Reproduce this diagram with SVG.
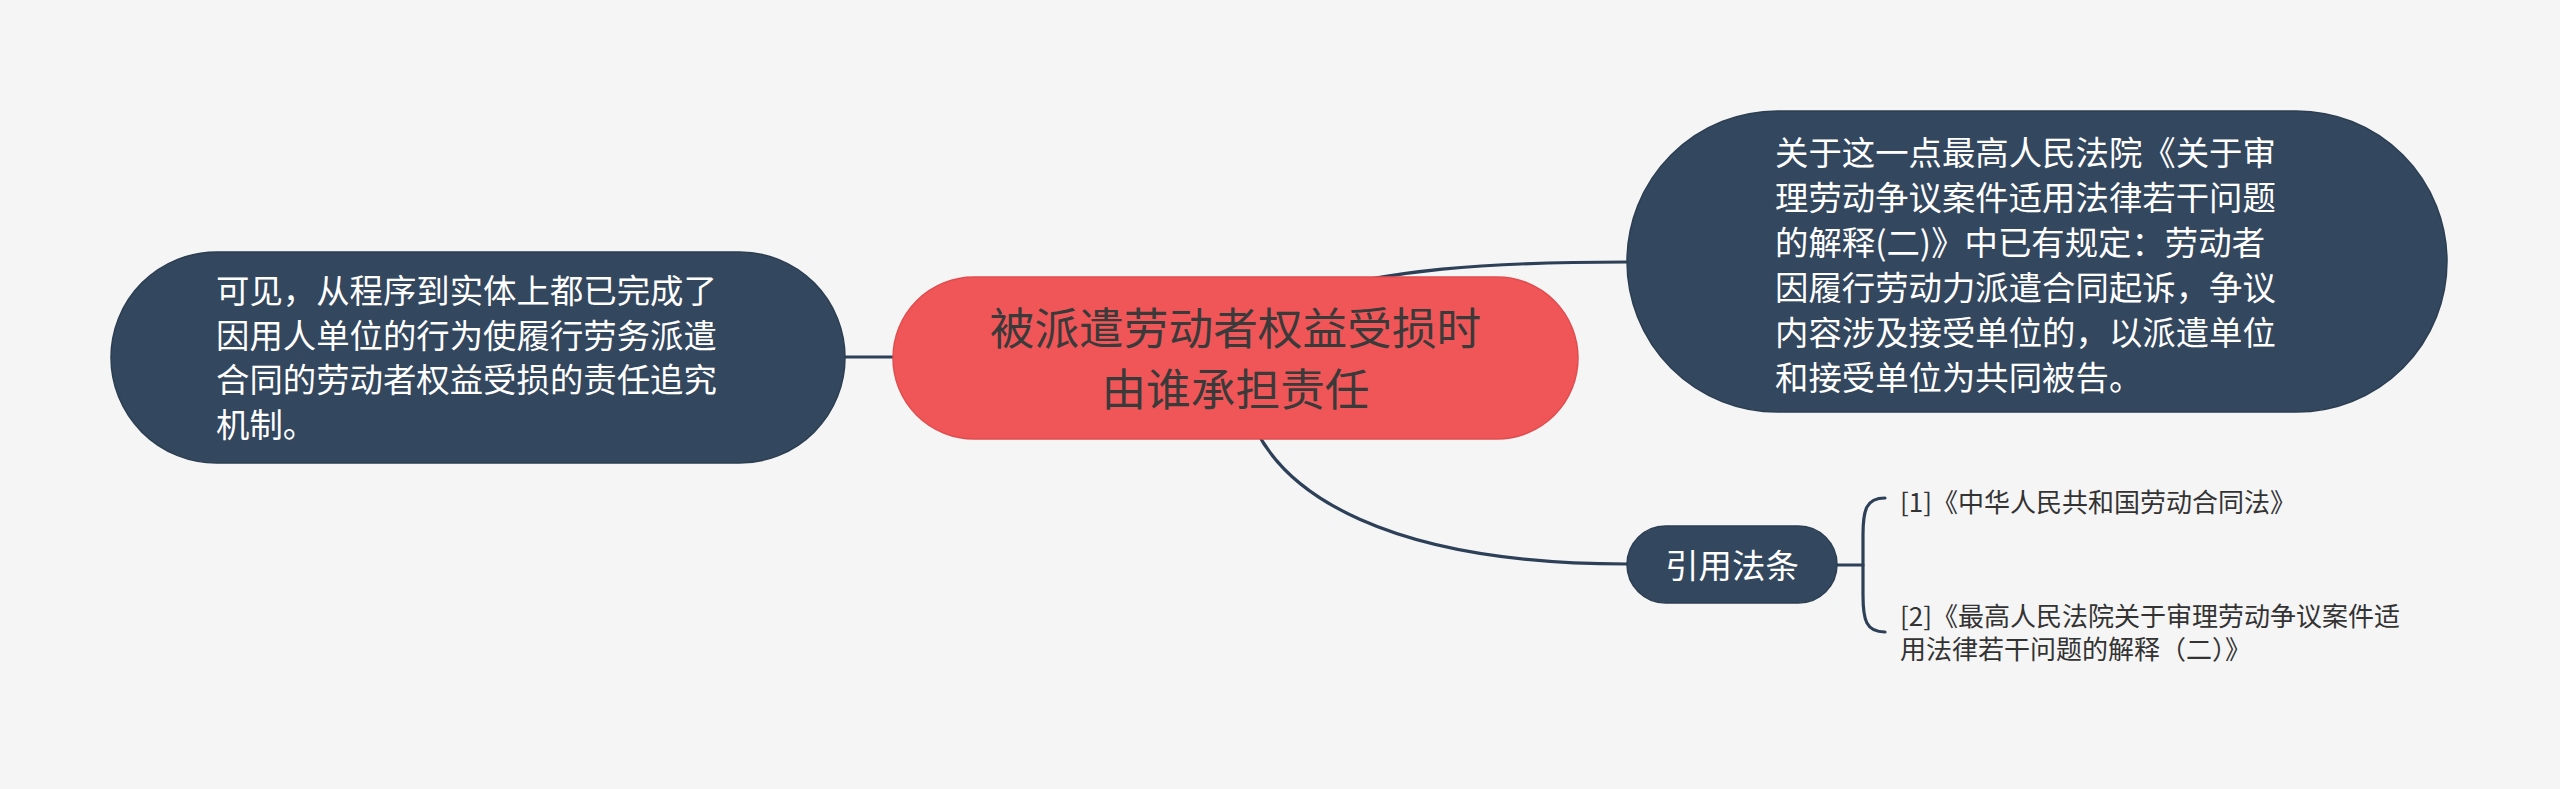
<svg xmlns="http://www.w3.org/2000/svg" width="2560" height="789" viewBox="0 0 2560 789">
<style>
.bg{fill:#f5f5f5}
.root{fill:#f05658;stroke:#e14d4f;stroke-width:1.5}
.dark{fill:#33475e;stroke:#2c3e52;stroke-width:1.5}
.link{fill:none;stroke:#2d4058;stroke-width:3.2;stroke-linecap:round}
text{font-family:"Noto Sans CJK SC","Noto Sans",sans-serif}
.t-root{font-size:44.7px;fill:#3a3a3a;text-anchor:middle}
.t-white{font-size:33.4px;fill:#ffffff}
.t-mid{font-size:33.4px;fill:#ffffff;text-anchor:middle}
.t-cite{font-size:26px;fill:#333333}
</style>
<rect class="bg" x="0" y="0" width="2560" height="789"/>
<g id="connectors">
<path class="link" d="M845 357 L900 357"/>
<path class="link" d="M1300 295 C1390 270 1480 262 1627 262"/>
<path class="link" d="M1245 400 C1270 500 1400 564 1627 564"/>
<path class="link" d="M1837 565 L1863 565"/>
<path class="link" d="M1885 498 C1866 498 1863 510 1863 535 L1863 595 C1863 620 1866 632 1885 632"/>
</g>
<g id="node-root">
<rect class="root" x="893" y="277" width="685" height="162" rx="81" ry="81"/>
<text class="t-root" x="1235.5" y="345">被派遣劳动者权益受损时</text>
<text class="t-root" x="1235.5" y="406">由谁承担责任</text>
</g>
<g id="node-left">
<rect class="dark" x="111" y="252" width="734" height="211" rx="105.5" ry="105.5"/>
<text class="t-white" x="216" y="303">可见，从程序到实体上都已完成了</text>
<text class="t-white" x="216" y="347.5">因用人单位的行为使履行劳务派遣</text>
<text class="t-white" x="216" y="392">合同的劳动者权益受损的责任追究</text>
<text class="t-white" x="216" y="436.5">机制。</text>
</g>
<g id="node-right">
<rect class="dark" x="1627" y="111" width="820" height="301" rx="150.5" ry="150.5"/>
<text class="t-white" x="1775" y="165">关于这一点最高人民法院《关于审</text>
<text class="t-white" x="1775" y="210">理劳动争议案件适用法律若干问题</text>
<text class="t-white" x="1775" y="255">的解释(二)》中已有规定：劳动者</text>
<text class="t-white" x="1775" y="300">因履行劳动力派遣合同起诉，争议</text>
<text class="t-white" x="1775" y="345">内容涉及接受单位的，以派遣单位</text>
<text class="t-white" x="1775" y="390">和接受单位为共同被告。</text>
</g>
<g id="node-cite">
<rect class="dark" x="1627" y="526" width="210" height="77" rx="38.5" ry="38.5"/>
<text class="t-mid" x="1732" y="578">引用法条</text>
</g>
<g id="node-cite-1">
<text class="t-cite" x="1900" y="512">[1]《中华人民共和国劳动合同法》</text>
</g>
<g id="node-cite-2">
<text class="t-cite" x="1900" y="626">[2]《最高人民法院关于审理劳动争议案件适</text>
<text class="t-cite" x="1900" y="659">用法律若干问题的解释（二）》</text>
</g>
</svg>
